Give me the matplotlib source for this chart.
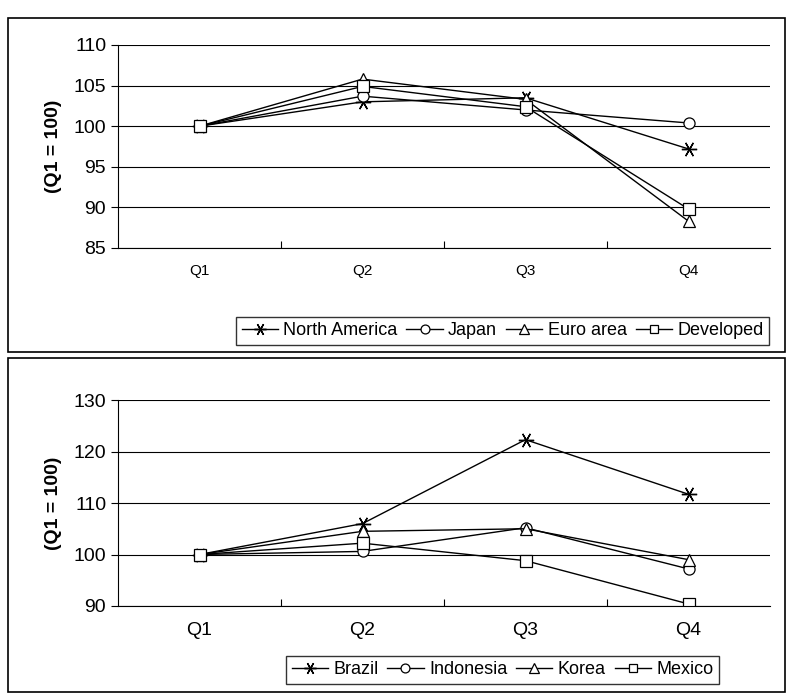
import matplotlib.pyplot as plt
from matplotlib.patches import Rectangle

quarters = ['Q1', 'Q2', 'Q3', 'Q4']

top_names = ['North America', 'Japan', 'Euro area', 'Developed']
north_america = [100, 103.0, 103.5, 97.2]
japan = [100, 103.7, 102.0, 100.4]
euro_area = [100, 105.8, 103.3, 88.3]
developed = [100, 104.9, 102.4, 89.8]

bottom_names = ['Brazil', 'Indonesia', 'Korea', 'Mexico']
brazil = [100, 106.0, 122.3, 111.7]
indonesia = [100, 100.6, 105.2, 97.2]
korea = [100, 104.5, 105.0, 99.0]
mexico = [100, 102.2, 98.8, 90.4]

markers = [dict(marker=(6, 2, 90), ms=11, mew=1),
           dict(marker='o', ms=8, mfc='white', mew=0.9),
           dict(marker='^', ms=9, mfc='white', mew=0.9),
           dict(marker='s', ms=8, mfc='white', mew=0.9)]

plt.rcParams['font.family'] = ['Liberation Sans', 'DejaVu Sans']

W, H = 789, 700
fig = plt.figure(figsize=(W / 100, H / 100), dpi=100)


def frac(x0, y0, x1, y1):
    return [x0 / W, 1 - y1 / H, (x1 - x0) / W, (y1 - y0) / H]


# panel frames
for (y0, y1) in [(18, 352), (358, 692)]:
    fig.patches.append(Rectangle((8 / W, 1 - y1 / H), 777 / W, (y1 - y0) / H,
                                 transform=fig.transFigure, fill=False,
                                 lw=1.2, ec='black'))


def panel(rect, series, names, ylim, step, tick_fs, legend_rect):
    ax = fig.add_axes(frac(*rect))
    x = range(len(quarters))
    for vals, name, m in zip(series, names, markers):
        ax.plot(x, vals, color='black', lw=1, label=name, **m)
    ax.set_xlim(-0.5, 3.5)
    ax.set_ylim(*ylim)
    ax.set_yticks(range(ylim[0], ylim[1] + 1, step))
    ax.yaxis.grid(True, color='black', lw=0.8)
    ax.set_axisbelow(True)
    ax.set_xticks([0.5, 1.5, 2.5])
    ax.set_xticklabels([])
    ax.tick_params(axis='x', length=5, direction='in')
    ypos = ylim[0] - (ylim[1] - ylim[0]) * 0.08
    for i, q in enumerate(quarters):
        ax.text(i, ypos, q, ha='center', va='top', fontsize=tick_fs)
    ax.tick_params(axis='y', labelsize=14, length=5)
    for s in ['top', 'right']:
        ax.spines[s].set_visible(False)
    ax.set_ylabel('(Q1 = 100)', fontsize=14, fontweight='bold', labelpad=8)
    h, l = ax.get_legend_handles_labels()
    leg = fig.legend(h, l, loc='center', bbox_to_anchor=frac(*legend_rect), ncol=4,
                     fontsize=13, frameon=True, fancybox=False, edgecolor='black',
                     handlelength=2.0, handletextpad=0.3, columnspacing=0.5,
                     borderpad=0.3, markerscale=0.8)
    leg.get_frame().set_linewidth(1)
    return ax


panel((118, 45, 770, 248), [north_america, japan, euro_area, developed],
      top_names, (85, 110), 5, 11, (240, 316, 765, 346))
panel((118, 400, 770, 606), [brazil, indonesia, korea, mexico],
      bottom_names, (90, 130), 10, 14, (265, 654, 740, 686))

fig.savefig('out.png', dpi=100, facecolor='white')
